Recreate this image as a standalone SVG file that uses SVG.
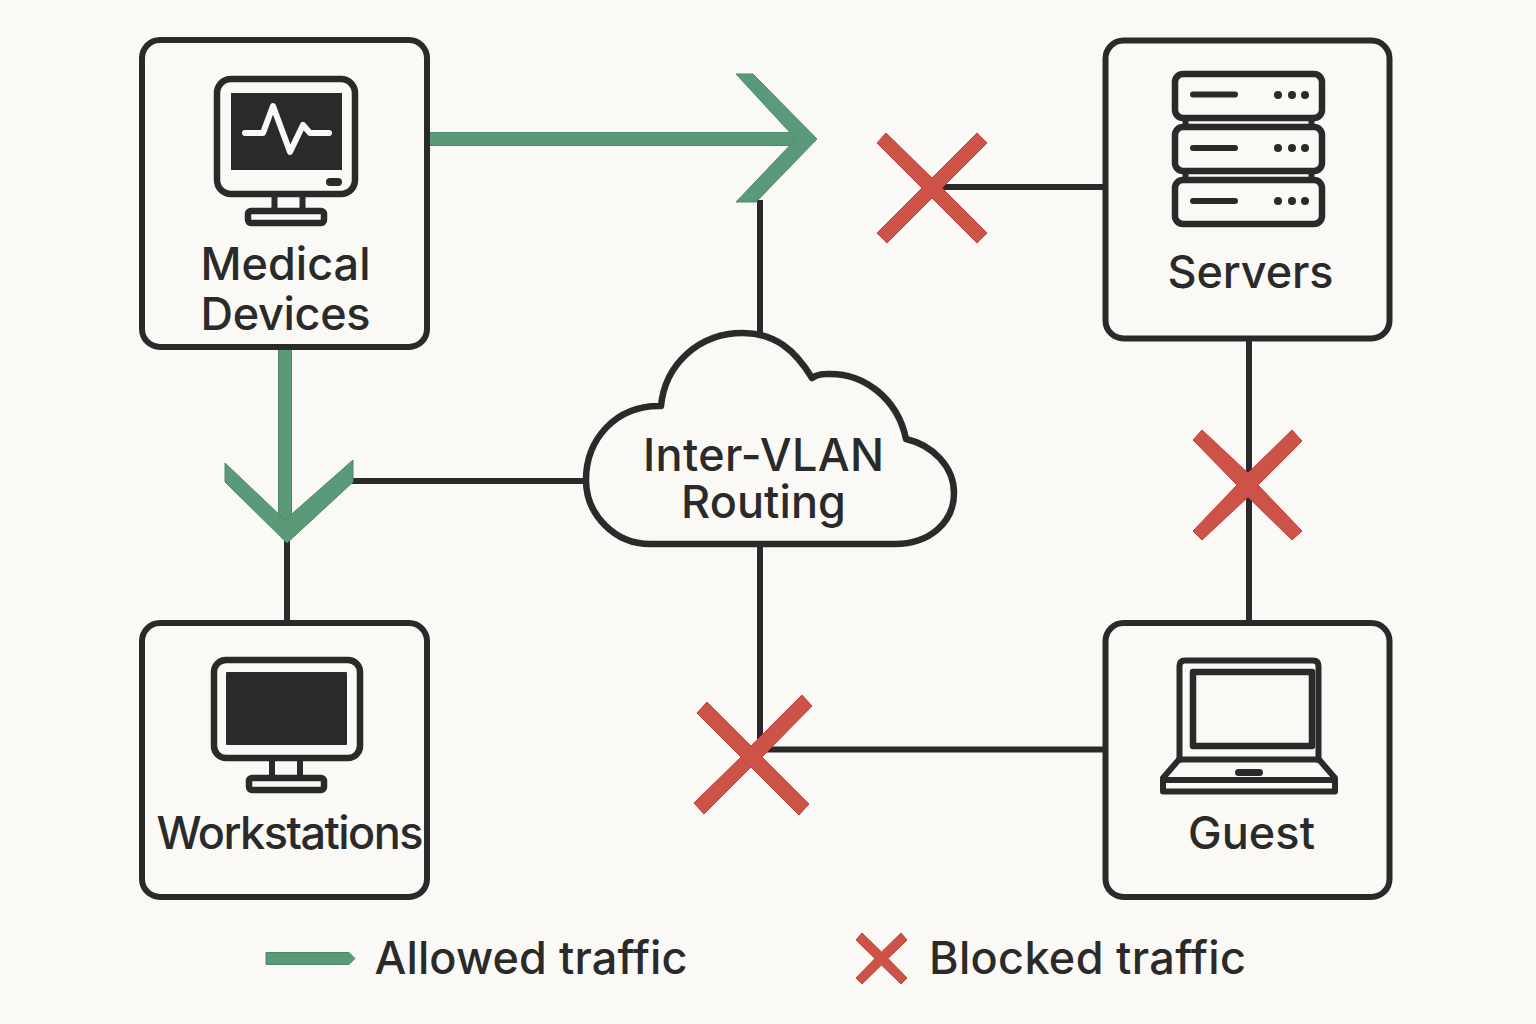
<svg xmlns="http://www.w3.org/2000/svg" width="1536" height="1024" viewBox="0 0 1536 1024">
<style>
.box{fill:#faf9f5;stroke:#2a2a2a;stroke-width:6}
.ln{fill:none;stroke:#2a2a2a;stroke-width:6}
.ic{fill:none;stroke:#2a2a2a;stroke-width:6.500;stroke-linejoin:round}
.ic5{fill:none;stroke:#2a2a2a;stroke-width:6;stroke-linejoin:round;stroke-linecap:round}
.dk{fill:#2a2a2a}
.gr{fill:#5b9a79;stroke:#4a8a69;stroke-width:1}
.rd{fill:#cd5349;stroke:#c23f38;stroke-width:1}
.t{font-family:Inter,"Liberation Sans",sans-serif;font-size:45px;font-weight:500;fill:#2a2a2a}
</style>
<rect width="1536" height="1024" fill="#faf9f5"/>
<g id="connectors">
<path class="ln" d="M287 540V622M352 481H586M760 200V334M760 545V750M760 749.500H1104M940 187H1104M1249 340V622"/>
<path class="gr" d="M429 132.500H800V145.500H429Z"/>
<path class="gr" d="M736 74H753L817 139L756 202H736L796 139Z"/>
<path class="gr" d="M278.500 349H291.500V525H278.500Z"/>
<path class="gr" d="M225 463L285 520L353 460V482L287 543L225 482Z"/>
<path class="rd" d="M877 143L886 133L932 178L977 133L987 143L942 188L987 233L977 243L932 198L887 243L877 233L922 188Z"/>
<path class="rd" d="M697 713L707 702L751 746L802 695L812 706L762 757L809 804L799 815L751 767L704 814L694 803L741 757Z"/>
<path class="rd" d="M1193 440L1202 430L1248 473L1292 430L1302 441L1258 485L1302 531L1292 540L1248 497L1202 540L1193 531L1237 485Z"/>
</g>
<g id="medical-devices">
<rect class="box" x="142" y="40" width="285" height="307" rx="18"/>
<rect class="ic" x="217" y="79" width="138" height="115" rx="14"/>
<rect class="dk" x="231" y="93" width="111" height="77"/>
<path d="M245 133H263L273 106L290 152L303 125L310 133H329" fill="none" stroke="#faf9f5" stroke-width="6" stroke-linecap="round" stroke-linejoin="round"/>
<rect class="dk" x="326" y="178" width="16" height="8" rx="4"/>
<path class="ln" d="M274.500 197V210M302.500 197V210"/>
<rect class="ic" x="248" y="211" width="76" height="12" rx="3"/>
<text class="t" x="200.500" y="280" textLength="170">Medical</text>
<text class="t" x="200.500" y="329.500" textLength="170">Devices</text>
</g>
<g id="servers">
<rect class="box" x="1105.500" y="40.500" width="284" height="298" rx="18"/>
<rect class="ic" x="1175" y="74" width="147" height="44" rx="8"/>
<rect class="ic" x="1175" y="127" width="147" height="44" rx="8"/>
<rect class="ic" x="1175" y="180" width="147" height="44" rx="8"/>
<path class="ln" d="M1185.500 118V127M1311.500 118V127M1185.500 171V180M1311.500 171V180"/>
<path class="ic5" d="M1193 94.500H1235M1193 148H1235M1193 201H1235"/>
<g class="dk"><circle cx="1278" cy="95" r="4"/><circle cx="1292" cy="95" r="4"/><circle cx="1305" cy="95" r="4"/><circle cx="1278" cy="148" r="4"/><circle cx="1292" cy="148" r="4"/><circle cx="1305" cy="148" r="4"/><circle cx="1278" cy="201" r="4"/><circle cx="1292" cy="201" r="4"/><circle cx="1305" cy="201" r="4"/></g>
<text class="t" x="1167.500" y="287.500" textLength="166">Servers</text>
</g>
<g id="workstations">
<rect class="box" x="142" y="623" width="285" height="274" rx="18"/>
<rect class="ic" x="214" y="660" width="146" height="98" rx="12"/>
<rect class="dk" x="226" y="672" width="121" height="73" rx="1"/>
<path class="ln" d="M272 761V776M300 761V776"/>
<rect class="ic" x="249" y="778" width="75" height="12" rx="3"/>
<text class="t" x="156.500" y="849" textLength="267">Workstations</text>
</g>
<g id="guest">
<rect class="box" x="1105.500" y="623" width="284" height="274" rx="18"/>
<path class="ic5" d="M1179.500 760V666Q1179.500 660.500 1185 660.500H1313Q1318.500 660.500 1318.500 666V760"/>
<rect class="ic" x="1193" y="672" width="119" height="74"/>
<path class="ic5" d="M1179 759.500H1319L1335 778V791.500H1163V778ZM1163 780H1335"/>
<rect class="dk" x="1235" y="769" width="28" height="7" rx="3.500"/>
<text class="t" x="1188" y="849" textLength="127">Guest</text>
</g>
<g id="inter-vlan-routing">
<path d="M650 544H895C930 544 954 522 954 493C954 466 932 445 906 439C898 400 865 372 826 374Q818 374 812 378C795 350 775 333 743 333C698 333 665 365 661 406C615 405 586 440 586 480C586 515 615 544 650 544Z" fill="#faf9f5" stroke="#2a2a2a" stroke-width="6.500" stroke-linejoin="round"/>
<text class="t" x="643" y="470.500" textLength="241">Inter-VLAN</text>
<text class="t" x="681" y="518" textLength="165">Routing</text>
</g>
<g id="legend">
<path class="gr" d="M266 952.500H349L355 958.500L349 964.500H266Z"/>
<text class="t" x="374.500" y="973.500" textLength="313">Allowed traffic</text>
<path class="rd" d="M856 940L862 933L881.500 952L901 933L907 940L888 958.500L907 978L901 984L881.500 965L862 984L856 978L875 958.500Z"/>
<text class="t" x="929" y="973.500" textLength="317">Blocked traffic</text>
</g>
</svg>
